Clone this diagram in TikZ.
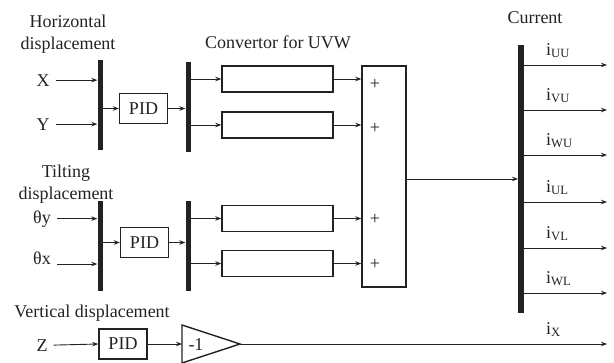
\documentclass[tikz,border=0pt]{standalone}
\usepackage{fontspec}
\setmainfont{Liberation Serif}
\usetikzlibrary{arrows.meta,positioning}
\definecolor{inkgray}{RGB}{34,34,34}

\begin{document}
\begin{tikzpicture}[x=1pt,y=-1pt,
  every node/.style={font=\fontsize{18}{22}\selectfont,text=inkgray},
  sig/.style={inkgray,line width=0.9pt,-{Stealth[length=6pt,width=4.5pt]}},
  bus/.style={fill=inkgray,inner sep=0pt,minimum width=5pt},
  blk/.style={draw=inkgray,line width=1.4pt,inner sep=0pt},
  pid/.style={blk,minimum width=48pt,minimum height=30pt},
  conv/.style={blk,minimum width=111pt,minimum height=26pt},
  ttl/.style={inner sep=0pt,align=center},
  inlbl/.style={inner ysep=0pt,inner xsep=6pt,anchor=base}]
  \useasboundingbox (0,0) rectangle (614,362);

  % horizontal displacement
  \node[ttl,anchor=north] (hcap) at (68,15) {Horizontal\\displacement};
  \node[inlbl] (X) at (43,86) {X};
  \node[inlbl] (Y) at (43,130) {Y};
  \node[bus,minimum height=90pt] (hbus) at (100,105) {};
  \node[pid] (hpid) at (143.5,108.5) {PID};
  \node[bus,minimum height=90pt] (hbus2) at (188,107) {};
  \node[conv] (c1) at (277.5,79) {};
  \node[conv] (c2) at (277.5,125) {};
  \draw[sig] (X.east) -- (X.east -| hbus.west);
  \draw[sig] (Y.east) -- (Y.east -| hbus.west);
  \draw[sig] (hbus.east |- hpid) -- (hpid.west);
  \draw[sig] (hpid.east) -- (hpid -| hbus2.west);
  \draw[sig] (hbus2.east |- c1) -- (c1.west);
  \draw[sig] (hbus2.east |- c2) -- (c2.west);

  % tilting displacement
  \node[ttl,anchor=north] (tcap) at (66,165) {Tilting\\displacement};
  \node[inlbl] (thy) at (42,223) {θy};
  \node[inlbl] (thx) at (42,264) {θx};
  \node[bus,minimum height=90pt] (tbus) at (100,246) {};
  \node[pid] (tpid) at (144.5,242.5) {PID};
  \node[bus,minimum height=90pt] (tbus2) at (188,246) {};
  \node[conv] (c3) at (277.5,218.5) {};
  \node[conv] (c4) at (277.5,263.5) {};
  \draw[sig] (thy.east) -- (thy.east -| tbus.west);
  \draw[sig] (thx.base east) -- (thx.base east -| tbus.west);
  \draw[sig] (tbus.east |- tpid) -- (tpid.west);
  \draw[sig] (tpid.east) -- (tpid -| tbus2.west);
  \draw[sig] (tbus2.east |- c3) -- (c3.west);
  \draw[sig] (tbus2.east |- c4) -- (c4.west);

  % convertor for UVW and sum
  \node[ttl,anchor=base] (ccap) at (278,48) {Convertor for UVW};
  \node[blk,minimum width=44pt,minimum height=221pt] (sum) at (384,176.5) {};
  \foreach \c/\y in {c1/84,c2/128,c3/219,c4/264}{
    \draw[sig] (\c.east) -- (\c -| sum.west);
    \node[inner sep=0pt] (p\c) at (375,\y) {+};
  }

  % current outputs
  \node[ttl,anchor=base] (icap) at (535,23) {Current};
  \node[bus,minimum width=5.5pt,minimum height=268pt] (cbus) at (521,179) {};
  \draw[sig] (sum.east |- 0,179) -- (cbus.west |- 0,179);
  \foreach \n/\y in {UU/65,VU/110,WU/155,UL/202,VL/248,WL/293}{
    \coordinate (o\n) at (607,\y);
    \draw[sig] (cbus.east |- o\n) -- (o\n);
    \node[inner sep=0pt,anchor=base west] (l\n) at (546,{\y-10}) {i\textsubscript{\n}};
  }

  % vertical displacement
  \node[ttl,anchor=base] (vcap) at (92,317) {Vertical displacement};
  \node[inlbl] (Z) at (42,351) {Z};
  \node[pid] (vpid) at (123,344) {PID};
  \coordinate (gin) at (182,344);
  \coordinate (gtip) at (240,344);
  \draw[inkgray,line width=1.4pt,line join=miter] (182,325) -- (gtip) -- (182,363) -- cycle;
  \node[inner sep=0pt] (gain) at (196,345) {-1};
  \coordinate (oX) at (607,344);
  \draw[sig] (Z.east) -- (vpid.west);
  \draw[sig] (vpid.east) -- (gin);
  \draw[sig] (gtip) -- (oX);
  \node[inner sep=0pt,anchor=base west] (lX) at (546,334) {i\textsubscript{X}};
\end{tikzpicture}
\end{document}
